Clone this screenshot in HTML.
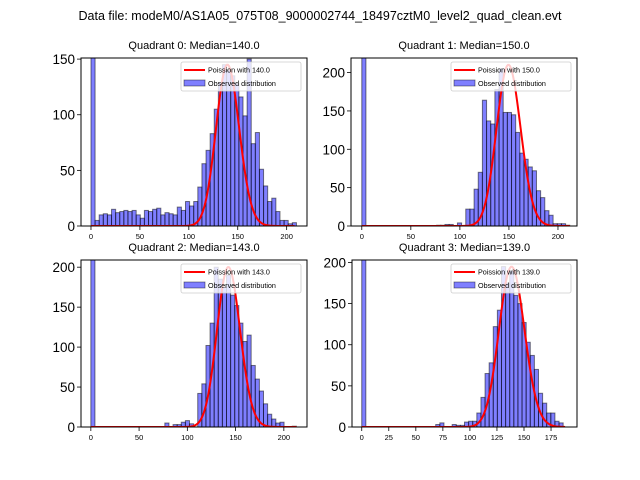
<!DOCTYPE html>
<html><head><meta charset="utf-8"><style>
html,body{margin:0;padding:0;background:#fff;}
svg{display:block;font-family:"Liberation Sans","DejaVu Sans",sans-serif;}
</style></head><body>
<svg id="fig" width="640" height="480" viewBox="0 0 640 480">
<text x="320" y="20" text-anchor="middle" font-size="12.5" fill="#000">Data file: modeM0/AS1A05_075T08_9000002744_18497cztM0_level2_quad_clean.evt</text>
</svg>
<script>
// ---- data ----
const q0Counts=[1000,5,10,11,10,15,12,13,14,13,14,10,7,14,13,15,16,10,12,11,10,17,14,22,18,22,35,56,68,83,105,129,145,140,135,128,116,99,150,74,84,51,36,22,25,13,5,5,2,3];
const q1Counts=[1000,0,0,0,0,0,0,0,0,0,0,0,0,0,0,0,0,0,1,1,2,2,0,4,0,22,22,48,70,164,137,133,178,205,148,148,145,122,95,87,77,72,46,37,20,14,3,3,3,1];
const q2Counts=[1000,0,0,0,0,0,0,0,0,0,0,0,0,0,0,0,0,0,5,0,3,3,6,8,4,0,42,54,102,130,200,185,175,190,165,152,130,107,115,77,60,45,29,16,10,5,6,0,0,1];
const q3Counts=[1000,0,0,0,0,0,0,0,0,0,0,0,0,0,0,0,0,0,3,5,0,0,3,2,2,6,7,7,17,36,65,78,122,142,195,175,190,160,150,127,103,87,70,41,29,17,17,7,5,0];
const binWidths=[4.2,4.24,4.26,3.8];
const medians=[140,150,143,139];
const poisScales=[4300,6450,6000,5760];
const curveMax=[208,212,213,188];
const xTicks012=[0,50,100,150,200];
const xTicks3=[0,25,50,75,100,125,150,175];
const yTicks0=[0,50,100,150];
const yTicks123=[0,50,100,150,200];
const titles=["Quadrant 0: Median=140.0","Quadrant 1: Median=150.0","Quadrant 2: Median=143.0","Quadrant 3: Median=139.0"];

const panels=[
 {counts:q0Counts,box:[81,58,307,226],xlim:[-10.2,220.8],ylim:[0,151],xt:xTicks012,yt:yTicks0,ty:49},
 {counts:q1Counts,box:[351,58,577,226],xlim:[-11,219.4],ylim:[0,219],xt:xTicks012,yt:yTicks123,ty:49},
 {counts:q2Counts,box:[81,260,307,427],xlim:[-10.2,224],ylim:[0,209],xt:xTicks012,yt:yTicks123,ty:251},
 {counts:q3Counts,box:[352,260,577,427],xlim:[-9,199],ylim:[0,203],xt:xTicks3,yt:yTicks123,ty:251}
];
const NS="http://www.w3.org/2000/svg";
const fig=document.getElementById('fig');
function mk(tag,attrs,parent){const e=document.createElementNS(NS,tag);for(const k in attrs)e.setAttribute(k,attrs[k]);(parent||fig).appendChild(e);return e;}
function lgamma(z){ // Stirling series
 return (z-0.5)*Math.log(z)-z+0.5*Math.log(2*Math.PI)+1/(12*z)-1/(360*z*z*z);}
function pmf(k,l){return Math.exp(k*Math.log(l)-l-lgamma(k+1));}

panels.forEach((p,pi)=>{
 const [L,T,R,B]=p.box;
 const sx=v=>L+(v-p.xlim[0])/(p.xlim[1]-p.xlim[0])*(R-L);
 const sy=v=>B-(v-p.ylim[0])/(p.ylim[1]-p.ylim[0])*(B-T);
 const g=mk('g',{});
 
 
 const cp=mk('clipPath',{id:'cp'+pi},g);
 mk('rect',{x:L,y:T,width:R-L,height:B-T},cp);
 const bars=mk('g',{'clip-path':'url(#cp'+pi+')'},g);
 const w=binWidths[pi];
 p.counts.forEach((c,i)=>{
  if(c<=0)return;
  const x0=sx(i*w),x1=sx((i+1)*w),y=sy(c);
  const r=mk('rect',{x:x0,y:y,width:x1-x0,height:B-y,fill:'rgba(0,0,255,0.5)',stroke:'rgba(0,0,0,0.5)','stroke-width':1},bars);
  
  
 });
 // poisson curve
 let d='';
 for(let k=0;k<=curveMax[pi];k++){
  const v=poisScales[pi]*pmf(k,medians[pi]);
  d+=(k?'L':'M')+sx(k).toFixed(2)+' '+sy(v).toFixed(2);
 }
 const ln=mk('path',{d:d,fill:'none',stroke:'#ff0000','stroke-width':2,'clip-path':'url(#cp'+pi+')'},g);
 
 
 // frame
 const fr=mk('rect',{x:L,y:T,width:R-L,height:B-T,fill:'none',stroke:'#000','stroke-width':1},g);
 
 
 // x ticks
 p.xt.forEach(t=>{
  const x=sx(t);
  mk('line',{x1:x,x2:x,y1:B,y2:B+4,stroke:'#000','stroke-width':0.8},g);
  const tx=mk('text',{x:x,y:B+13,'text-anchor':'middle','font-size':7.5},g);
  tx.textContent=t;
  
  
 });
 // y ticks
 p.yt.forEach(t=>{
  const y=sy(t);
  mk('line',{x1:L-4,x2:L,y1:y,y2:y,stroke:'#000','stroke-width':0.8},g);
  const ty=mk('text',{x:L-6,y:y+5,'text-anchor':'end','font-size':13.5},g);
  ty.textContent=t;
  
  
 });
 // title
 const tt=mk('text',{x:(L+R)/2,y:p.ty,'text-anchor':'middle','font-size':11},g);
 tt.textContent=titles[pi];
 
 
 // legend
 const lx=R-126,ly=T+4;
 const lg=mk('g',{},g);
 
 
 mk('rect',{x:lx,y:ly,width:120,height:29,rx:2,fill:'rgba(255,255,255,0.8)',stroke:'#ccc','stroke-width':0.8},lg);
 mk('line',{x1:lx+3,x2:lx+24,y1:ly+8,y2:ly+8,stroke:'#ff0000','stroke-width':2},lg);
 const t1=mk('text',{x:lx+27,y:ly+10.5,'font-size':7.2},lg);
 t1.textContent='Poission with '+medians[pi].toFixed(1);
 
 
 mk('rect',{x:lx+3,y:ly+18,width:21,height:6,fill:'rgba(0,0,255,0.5)',stroke:'rgba(0,0,0,0.5)','stroke-width':0.8},lg);
 const t2=mk('text',{x:lx+27,y:ly+24,'font-size':7.2},lg);
 t2.textContent='Observed distribution';
 
 
});
</script>
</body></html>
